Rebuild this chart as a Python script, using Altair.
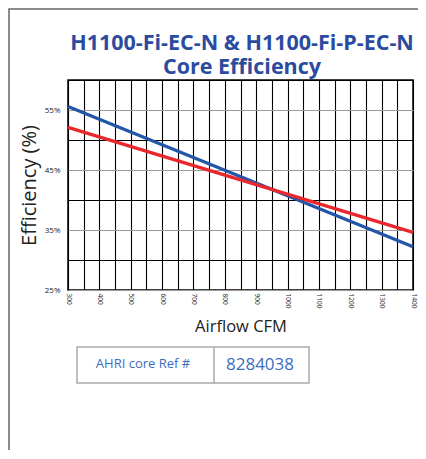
import altair as alt
import pandas as pd

# ---- data ----
airflow = [300, 1400]
eff_blue = [55.6, 32.2]   # H1100-Fi-EC-N
eff_red = [52.1, 34.6]    # H1100-Fi-P-EC-N
series_names = ["H1100-Fi-EC-N", "H1100-Fi-P-EC-N"]
series_colors = ["#2356a8", "#e8282c"]
title_lines = ["H1100-Fi-EC-N & H1100-Fi-P-EC-N", "Core Efficiency"]
x_ticks = list(range(300, 1401, 50))
y_ticks = list(range(25, 61, 5))
table_label = "AHRI core Ref #"
table_value = "8284038"

rows = []
for name, vals in zip(series_names, [eff_blue, eff_red]):
    for a, e in zip(airflow, vals):
        rows.append({"airflow": a, "eff": e, "series": name})
df = pd.DataFrame(rows)

one = pd.DataFrame({"k": [0]})

lines = alt.Chart(df).mark_line(strokeWidth=3.2).encode(
    x=alt.X("airflow:Q",
            scale=alt.Scale(domain=[300, 1400], nice=False),
            axis=alt.Axis(values=x_ticks, grid=True, gridColor="black", gridWidth=1.1,
                          gridOpacity=1, ticks=False, domain=False, labelAngle=90,
                          labelFontSize=6.5, labelColor="#222", labelPadding=3,
                          labelExpr="datum.value % 100 == 0 ? datum.value : ''",
                          labelFont="Open Sans",
                          title="Airflow CFM", titleFontSize=16.5, titleFontWeight="normal",
                          titleColor="#222", titleFont="Open Sans", titlePadding=11)),
    y=alt.Y("eff:Q",
            scale=alt.Scale(domain=[25, 60], nice=False),
            axis=alt.Axis(values=y_ticks, grid=True,
                          gridColor=alt.condition("datum.value % 10 == 0",
                                                  alt.value("black"), alt.value("#9a9a9a")),
                          gridWidth=1.1, gridOpacity=1, ticks=False, domain=False,
                          labelFontSize=8, labelColor="#222", labelPadding=8,
                          labelFont="Open Sans",
                          labelExpr="datum.value % 10 == 5 ? datum.value + '%' : ''",
                          title="Efficiency (%)", titleFontSize=20, titleFontWeight="normal",
                          titleColor="#222", titleFont="Open Sans", titlePadding=5)),
    color=alt.Color("series:N", scale=alt.Scale(domain=series_names, range=series_colors),
                    legend=None),
)

title_df = pd.DataFrame({"t": title_lines})
t1 = alt.Chart(title_df.iloc[[0]]).mark_text(
    font="Open Sans", fontSize=21.5, fontWeight="bold", color="#2b4c9e",
    align="center", baseline="alphabetic").encode(
    x=alt.value(174), y=alt.value(-30), text="t:N")
t2 = alt.Chart(title_df.iloc[[1]]).mark_text(
    font="Open Sans", fontSize=21.5, fontWeight="bold", color="#2b4c9e",
    align="center", baseline="alphabetic").encode(
    x=alt.value(174), y=alt.value(-6), text="t:N")

frame = alt.Chart(one).mark_rect(fillOpacity=0, stroke="#666", strokeWidth=1.5).encode(
    x=alt.value(-59), x2=alt.value(700), y=alt.value(-71), y2=alt.value(700))

box = alt.Chart(one).mark_rect(fillOpacity=0, stroke="#aaa", strokeWidth=1.5).encode(
    x=alt.value(9), x2=alt.value(241), y=alt.value(267), y2=alt.value(303))
divider = alt.Chart(one).mark_rule(stroke="#aaa", strokeWidth=1.5).encode(
    x=alt.value(146), y=alt.value(267), y2=alt.value(303))

tab_df = pd.DataFrame({"t": [table_label, table_value]})
lab = alt.Chart(tab_df.iloc[[0]]).mark_text(
    font="Open Sans", fontSize=13, color="#3c6dbf", align="center", baseline="middle").encode(
    x=alt.value(75), y=alt.value(284), text="t:N")
val = alt.Chart(tab_df.iloc[[1]]).mark_text(
    font="Open Sans", fontSize=17, color="#3c6dbf", align="center", baseline="middle").encode(
    x=alt.value(192), y=alt.value(285), text="t:N")

chart = alt.layer(frame, lines, t1, t2, box, divider, lab, val).properties(
    width=345, height=210,
    autosize=alt.AutoSizeParams(type="none"),
    padding={"left": 60, "top": 72, "right": 5, "bottom": 160},
    background="white",
).configure_view(stroke="black", strokeWidth=1.5)

chart.save("out.html", embed_options={"renderer": "svg", "actions": False})
